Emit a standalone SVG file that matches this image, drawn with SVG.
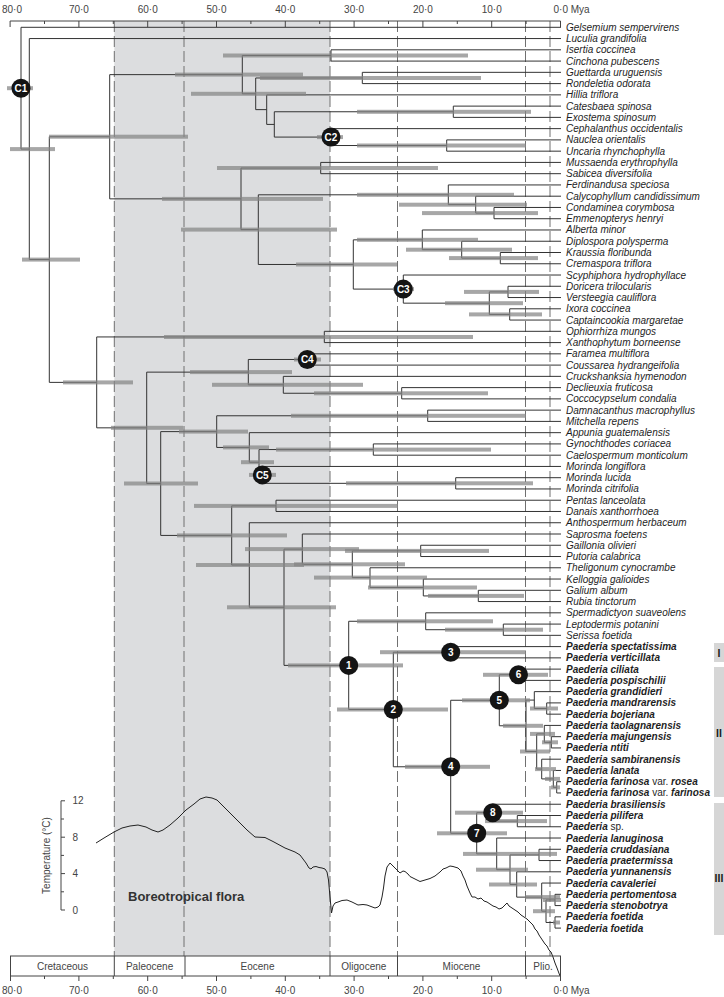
<svg xmlns="http://www.w3.org/2000/svg" width="724" height="997" viewBox="0 0 724 997">
<style>
.br{fill:none;stroke:#333;stroke-width:1}
.bar{fill:#858585;fill-opacity:0.72}
.tip{font-family:"Liberation Sans",Arial,sans-serif;font-size:10px;font-style:italic;fill:#1e1e1e}
.pae{font-weight:bold}
.n{font-weight:normal;font-style:normal}
.ax{font-family:"Liberation Sans",Arial,sans-serif;font-size:10px;fill:#444}
.dash{stroke:#707070;stroke-width:1;stroke-dasharray:11 4;fill:none}
.tk{stroke:#444;stroke-width:1}
.cal circle{fill:#141414}
.cal text{font-family:"Liberation Sans",Arial,sans-serif;font-size:10px;font-weight:bold;fill:#fff;text-anchor:middle}
.grp{fill:#d6d6d6}
.gl{font-family:"Liberation Sans",Arial,sans-serif;font-size:10.5px;font-weight:bold;fill:#1a1a1a;text-anchor:middle}
</style>
<rect width="724" height="997" fill="#fff"/>
<g id="background">
<rect x="114.3" y="21" width="215.7" height="935" fill="#dcdddf"/>
<path class="dash" d="M114.3,21V956M184,21V956M330,21V956M397.5,21V956M525.5,21V956M550,21V956"/>
</g>
<g id="top-axis">
<path class="tk" d="M10.1,21H560.5M10.1,21v6M78.9,21v6M147.7,21v6M216.5,21v6M285.3,21v6M354.1,21v6M422.9,21v6M491.7,21v6M560.5,21v6M44.5,21v3M113.3,21v3M182.1,21v3M250.9,21v3M319.7,21v3M388.5,21v3M457.3,21v3M526.1,21v3"/>
<g class="ax" text-anchor="middle">
<text x="12" y="13">80·0</text><text x="78.9" y="13">70·0</text><text x="147.7" y="13">60·0</text><text x="216.5" y="13">50·0</text><text x="285.3" y="13">40·0</text><text x="354.1" y="13">30·0</text><text x="422.9" y="13">20·0</text><text x="491.7" y="13">10·0</text>
</g>
<text class="ax" x="553.5" y="13">0·0 Mya</text>
</g>
<g id="connectors" class="br">
<path d="M561,27.3H21V149.07H29.3"/>
<path d="M561,38.56H29.3V259.57H49.3"/>
<path d="M109.7,136.74H49.3V382.39H96.7"/>
<path d="M242.3,74.63H109.7V198.85H241"/>
<path d="M331,55.45H242.3V93.8H255.7"/>
<path d="M561,49.82H331V61.08H561"/>
<path d="M362.3,77.97H255.7V109.64H266.7"/>
<path d="M561,72.34H362.3V83.6H561"/>
<path d="M561,94.86H266.7V124.42H274.3"/>
<path d="M453.3,111.75H274.3V137.09H331"/>
<path d="M561,106.12H453.3V117.38H561"/>
<path d="M561,128.64H331V145.53H446.7"/>
<path d="M561,139.9H446.7V151.16H561"/>
<path d="M320.7,168.05H241V229.64H258.3"/>
<path d="M561,162.42H320.7V173.68H561"/>
<path d="M448.3,194.8H258.3V264.47H353.3"/>
<path d="M561,184.94H448.3V204.65H475.7"/>
<path d="M561,196.2H475.7V213.09H494"/>
<path d="M561,207.46H494V218.72H561"/>
<path d="M422.3,239.84H353.3V289.1H403.3"/>
<path d="M561,229.98H422.3V249.69H461.7"/>
<path d="M561,241.24H461.7V258.13H500.3"/>
<path d="M561,252.5H500.3V263.76H561"/>
<path d="M561,275.02H403.3V303.17H489.3"/>
<path d="M508,291.91H489.3V314.43H509.7"/>
<path d="M561,286.28H508V297.54H561"/>
<path d="M561,308.8H509.7V320.06H561"/>
<path d="M324.3,336.95H96.7V427.83H146.7"/>
<path d="M561,331.32H324.3V342.58H561"/>
<path d="M248.3,372.14H146.7V483.52H160.7"/>
<path d="M307.3,359.47H248.3V384.81H283.3"/>
<path d="M561,353.84H307.3V365.1H561"/>
<path d="M561,376.36H283.3V393.25H401.7"/>
<path d="M561,387.62H401.7V398.88H561"/>
<path d="M216.7,431.61H160.7V535.43H231.7"/>
<path d="M427.7,415.77H216.7V447.44H249.3"/>
<path d="M561,410.14H427.7V421.4H561"/>
<path d="M561,432.66H249.3V462.22H259"/>
<path d="M373.3,449.55H259V474.89H262.3"/>
<path d="M561,443.92H373.3V455.18H561"/>
<path d="M561,466.44H262.3V483.33H455.7"/>
<path d="M561,477.7H455.7V488.96H561"/>
<path d="M276,505.85H231.7V565.01H249.3"/>
<path d="M561,500.22H276V511.48H561"/>
<path d="M561,522.74H249.3V607.27H284"/>
<path d="M302.3,549.14H284V665.39H348.7"/>
<path d="M561,534H302.3V564.27H352.3"/>
<path d="M420.7,550.89H352.3V577.64H370"/>
<path d="M561,545.26H420.7V556.52H561"/>
<path d="M561,567.78H370V587.49H423.3"/>
<path d="M561,579.04H423.3V595.93H478.3"/>
<path d="M561,590.3H478.3V601.56H561"/>
<path d="M425.7,621.27H348.7V709.51H393.3"/>
<path d="M561,612.82H425.7V629.71H503.3"/>
<path d="M561,624.08H503.3V635.34H561"/>
<path d="M450.7,652.23H393.3V766.78H450.7"/>
<path d="M561,646.6H450.7V657.86H561"/>
<path d="M499.3,700.27H450.7V833.28H476.7"/>
<path d="M518.5,674.75H499.3V725.78H526"/>
<path d="M561,669.12H518.5V680.38H561"/>
<path d="M534.3,700.09H526V751.47H536.7"/>
<path d="M561,691.64H534.3V708.53H546.7"/>
<path d="M561,702.9H546.7V714.16H561"/>
<path d="M544.3,733.87H536.7V769.06H541.7"/>
<path d="M561,725.42H544.3V742.31H551.3"/>
<path d="M561,736.68H551.3V747.94H561"/>
<path d="M561,759.2H541.7V778.91H553.3"/>
<path d="M561,770.46H553.3V787.35H556.7"/>
<path d="M561,781.72H556.7V792.98H561"/>
<path d="M492.7,812.69H476.7V853.86H496.7"/>
<path d="M561,804.24H492.7V821.13H517.3"/>
<path d="M561,815.5H517.3V826.76H561"/>
<path d="M561,838.02H496.7V869.69H510"/>
<path d="M539,854.91H510V884.47H516.7"/>
<path d="M561,849.28H539V860.54H561"/>
<path d="M561,871.8H516.7V897.14H541.7"/>
<path d="M561,883.06H541.7V911.21H546"/>
<path d="M555,899.95H546V922.47H555"/>
<path d="M561,894.32H555V905.58H561"/>
<path d="M561,916.84H555V928.1H561"/>
</g>
<g id="hpd-bars" class="bar">
<rect x="7" y="86.2" width="26" height="4"/>
<rect x="10" y="147.1" width="45" height="4"/>
<rect x="22" y="257.6" width="58" height="4"/>
<rect x="49" y="134.7" width="139" height="4"/>
<rect x="175" y="72.6" width="128" height="4"/>
<rect x="223" y="53.5" width="245" height="4"/>
<rect x="191" y="91.8" width="115" height="4"/>
<rect x="260" y="76" width="221" height="4"/>
<rect x="357" y="109.8" width="174" height="4"/>
<rect x="317" y="135.1" width="26" height="4"/>
<rect x="357" y="143.5" width="169" height="4"/>
<rect x="162" y="196.9" width="161" height="4"/>
<rect x="217" y="166" width="221" height="4"/>
<rect x="181" y="227.6" width="156" height="4"/>
<rect x="357" y="192.8" width="157" height="4"/>
<rect x="399" y="202.7" width="128" height="4"/>
<rect x="422" y="211.1" width="116" height="4"/>
<rect x="296" y="262.5" width="101" height="4"/>
<rect x="357" y="237.8" width="121" height="4"/>
<rect x="406" y="247.7" width="106" height="4"/>
<rect x="449" y="256.1" width="89" height="4"/>
<rect x="393" y="287.1" width="21" height="4"/>
<rect x="445" y="301.2" width="78" height="4"/>
<rect x="464" y="289.9" width="75" height="4"/>
<rect x="469" y="312.4" width="73" height="4"/>
<rect x="63" y="380.4" width="70" height="4"/>
<rect x="164" y="335" width="309" height="4"/>
<rect x="111" y="425.8" width="72" height="4"/>
<rect x="190" y="370.1" width="102" height="4"/>
<rect x="294" y="357.5" width="27" height="4"/>
<rect x="212" y="382.8" width="151" height="4"/>
<rect x="314" y="391.3" width="174" height="4"/>
<rect x="124" y="481.5" width="74" height="4"/>
<rect x="179" y="429.6" width="69" height="4"/>
<rect x="291" y="413.8" width="235" height="4"/>
<rect x="223" y="445.4" width="46" height="4"/>
<rect x="241" y="460.2" width="33" height="4"/>
<rect x="276" y="447.6" width="215" height="4"/>
<rect x="249" y="472.9" width="27" height="4"/>
<rect x="346" y="481.3" width="187" height="4"/>
<rect x="177" y="533.4" width="110" height="4"/>
<rect x="194" y="503.9" width="204" height="4"/>
<rect x="196" y="563" width="108" height="4"/>
<rect x="227" y="605.3" width="109" height="4"/>
<rect x="245" y="547.1" width="114" height="4"/>
<rect x="294" y="562.3" width="111" height="4"/>
<rect x="345" y="548.9" width="144" height="4"/>
<rect x="314" y="575.6" width="113" height="4"/>
<rect x="368" y="585.5" width="109" height="4"/>
<rect x="428" y="593.9" width="96" height="4"/>
<rect x="288" y="663.4" width="115" height="4"/>
<rect x="357" y="619.3" width="136" height="4"/>
<rect x="445" y="627.7" width="98" height="4"/>
<rect x="337" y="707.5" width="111" height="4"/>
<rect x="380" y="650.2" width="146" height="4"/>
<rect x="405" y="764.8" width="85" height="4"/>
<rect x="462" y="698.3" width="68" height="4"/>
<rect x="483" y="672.8" width="65" height="4"/>
<rect x="503" y="723.8" width="40" height="4"/>
<rect x="530" y="706.5" width="28" height="4"/>
<rect x="520" y="749.5" width="30" height="4"/>
<rect x="530" y="731.9" width="25" height="4"/>
<rect x="542" y="740.3" width="16" height="4"/>
<rect x="535" y="767.1" width="21" height="4"/>
<rect x="545" y="776.9" width="15" height="4"/>
<rect x="551" y="785.4" width="9" height="4"/>
<rect x="437" y="831.3" width="70" height="4"/>
<rect x="455" y="810.7" width="68" height="4"/>
<rect x="485" y="819.1" width="62" height="4"/>
<rect x="463" y="851.9" width="94" height="4"/>
<rect x="476" y="867.7" width="52" height="4"/>
<rect x="489" y="882.5" width="48" height="4"/>
<rect x="525" y="895.1" width="35" height="4"/>
<rect x="533" y="909.2" width="22" height="4"/>
<rect x="543" y="898" width="18" height="4"/>
<rect x="553" y="920.5" width="7" height="4"/>
</g>
<g id="C1" class="cal"><circle cx="21" cy="88.19" r="9.5"/><text x="21" y="91.8" font-size="9.5">C1</text></g>
<g id="C2" class="cal"><circle cx="331" cy="137.09" r="9.5"/><text x="331" y="140.7" font-size="9.5">C2</text></g>
<g id="C3" class="cal"><circle cx="403.3" cy="289.1" r="9.5"/><text x="403.3" y="292.7" font-size="9.5">C3</text></g>
<g id="C4" class="cal"><circle cx="307.3" cy="359.47" r="9.5"/><text x="307.3" y="363.1" font-size="9.5">C4</text></g>
<g id="C5" class="cal"><circle cx="262.3" cy="474.89" r="9.5"/><text x="262.3" y="478.5" font-size="9.5">C5</text></g>
<g id="node1" class="cal"><circle cx="348.7" cy="665.39" r="9.5"/><text x="348.7" y="669">1</text></g>
<g id="node2" class="cal"><circle cx="393.3" cy="709.51" r="9.5"/><text x="393.3" y="713.1">2</text></g>
<g id="node3" class="cal"><circle cx="450.7" cy="652.23" r="9.5"/><text x="450.7" y="655.8">3</text></g>
<g id="node4" class="cal"><circle cx="450.7" cy="766.78" r="9.5"/><text x="450.7" y="770.4">4</text></g>
<g id="node5" class="cal"><circle cx="499.3" cy="700.27" r="9.5"/><text x="499.3" y="703.9">5</text></g>
<g id="node6" class="cal"><circle cx="518.5" cy="674.75" r="9.5"/><text x="518.5" y="678.4">6</text></g>
<g id="node7" class="cal"><circle cx="476.7" cy="833.28" r="9.5"/><text x="476.7" y="836.9">7</text></g>
<g id="node8" class="cal"><circle cx="492.7" cy="812.69" r="9.5"/><text x="492.7" y="816.3">8</text></g>
<g id="tips" class="tip">
<g id="t01"><text x="566" y="30.8">Gelsemium sempervirens</text></g>
<g id="t02"><text x="566" y="42.06">Luculia grandifolia</text></g>
<g id="t03"><text x="566" y="53.32">Isertia coccinea</text></g>
<g id="t04"><text x="566" y="64.58">Cinchona pubescens</text></g>
<g id="t05"><text x="566" y="75.84">Guettarda uruguensis</text></g>
<g id="t06"><text x="566" y="87.1">Rondeletia odorata</text></g>
<g id="t07"><text x="566" y="98.36">Hillia triflora</text></g>
<g id="t08"><text x="566" y="109.62">Catesbaea spinosa</text></g>
<g id="t09"><text x="566" y="120.88">Exostema spinosum</text></g>
<g id="t10"><text x="566" y="132.14">Cephalanthus occidentalis</text></g>
<g id="t11"><text x="566" y="143.4">Nauclea orientalis</text></g>
<g id="t12"><text x="566" y="154.66">Uncaria rhynchophylla</text></g>
<g id="t13"><text x="566" y="165.92">Mussaenda erythrophylla</text></g>
<g id="t14"><text x="566" y="177.18">Sabicea diversifolia</text></g>
<g id="t15"><text x="566" y="188.44">Ferdinandusa speciosa</text></g>
<g id="t16"><text x="566" y="199.7">Calycophyllum candidissimum</text></g>
<g id="t17"><text x="566" y="210.96">Condaminea corymbosa</text></g>
<g id="t18"><text x="566" y="222.22">Emmenopterys henryi</text></g>
<g id="t19"><text x="566" y="233.48">Alberta minor</text></g>
<g id="t20"><text x="566" y="244.74">Diplospora polysperma</text></g>
<g id="t21"><text x="566" y="256">Kraussia floribunda</text></g>
<g id="t22"><text x="566" y="267.26">Cremaspora triflora</text></g>
<g id="t23"><text x="566" y="278.52">Scyphiphora hydrophyllace</text></g>
<g id="t24"><text x="566" y="289.78">Doricera trilocularis</text></g>
<g id="t25"><text x="566" y="301.04">Versteegia cauliflora</text></g>
<g id="t26"><text x="566" y="312.3">Ixora coccinea</text></g>
<g id="t27"><text x="566" y="323.56">Captaincookia margaretae</text></g>
<g id="t28"><text x="566" y="334.82">Ophiorrhiza mungos</text></g>
<g id="t29"><text x="566" y="346.08">Xanthophytum borneense</text></g>
<g id="t30"><text x="566" y="357.34">Faramea multiflora</text></g>
<g id="t31"><text x="566" y="368.6">Coussarea hydrangeifolia</text></g>
<g id="t32"><text x="566" y="379.86">Cruckshanksia hymenodon</text></g>
<g id="t33"><text x="566" y="391.12">Declieuxia fruticosa</text></g>
<g id="t34"><text x="566" y="402.38">Coccocypselum condalia</text></g>
<g id="t35"><text x="566" y="413.64">Damnacanthus macrophyllus</text></g>
<g id="t36"><text x="566" y="424.9">Mitchella repens</text></g>
<g id="t37"><text x="566" y="436.16">Appunia guatemalensis</text></g>
<g id="t38"><text x="566" y="447.42">Gynochthodes coriacea</text></g>
<g id="t39"><text x="566" y="458.68">Caelospermum monticolum</text></g>
<g id="t40"><text x="566" y="469.94">Morinda longiflora</text></g>
<g id="t41"><text x="566" y="481.2">Morinda lucida</text></g>
<g id="t42"><text x="566" y="492.46">Morinda citrifolia</text></g>
<g id="t43"><text x="566" y="503.72">Pentas lanceolata</text></g>
<g id="t44"><text x="566" y="514.98">Danais xanthorrhoea</text></g>
<g id="t45"><text x="566" y="526.24">Anthospermum herbaceum</text></g>
<g id="t46"><text x="566" y="537.5">Saprosma foetens</text></g>
<g id="t47"><text x="566" y="548.76">Gaillonia olivieri</text></g>
<g id="t48"><text x="566" y="560.02">Putoria calabrica</text></g>
<g id="t49"><text x="566" y="571.28">Theligonum cynocrambe</text></g>
<g id="t50"><text x="566" y="582.54">Kelloggia galioides</text></g>
<g id="t51"><text x="566" y="593.8">Galium album</text></g>
<g id="t52"><text x="566" y="605.06">Rubia tinctorum</text></g>
<g id="t53"><text x="566" y="616.32">Spermadictyon suaveolens</text></g>
<g id="t54"><text x="566" y="627.58">Leptodermis potanini</text></g>
<g id="t55"><text x="566" y="638.84">Serissa foetida</text></g>
<g id="t56"><text class="pae" x="566" y="650.1">Paederia spectatissima</text></g>
<g id="t57"><text class="pae" x="566" y="661.36">Paederia verticillata</text></g>
<g id="t58"><text class="pae" x="566" y="672.62">Paederia ciliata</text></g>
<g id="t59"><text class="pae" x="566" y="683.88">Paederia pospischilii</text></g>
<g id="t60"><text class="pae" x="566" y="695.14">Paederia grandidieri</text></g>
<g id="t61"><text class="pae" x="566" y="706.4">Paederia mandrarensis</text></g>
<g id="t62"><text class="pae" x="566" y="717.66">Paederia bojeriana</text></g>
<g id="t63"><text class="pae" x="566" y="728.92">Paederia taolagnarensis</text></g>
<g id="t64"><text class="pae" x="566" y="740.18">Paederia majungensis</text></g>
<g id="t65"><text class="pae" x="566" y="751.44">Paederia ntiti</text></g>
<g id="t66"><text class="pae" x="566" y="762.7">Paederia sambiranensis</text></g>
<g id="t67"><text class="pae" x="566" y="773.96">Paederia lanata</text></g>
<g id="t68"><text class="pae" x="566" y="785.22">Paederia farinosa <tspan class="n">var.</tspan> rosea</text></g>
<g id="t69"><text class="pae" x="566" y="796.48">Paederia farinosa <tspan class="n">var.</tspan> farinosa</text></g>
<g id="t70"><text class="pae" x="566" y="807.74">Paederia brasiliensis</text></g>
<g id="t71"><text class="pae" x="566" y="819">Paederia pilifera</text></g>
<g id="t72"><text class="pae" x="566" y="830.26">Paederia <tspan class="n">sp.</tspan></text></g>
<g id="t73"><text class="pae" x="566" y="841.52">Paederia lanuginosa</text></g>
<g id="t74"><text class="pae" x="566" y="852.78">Paederia cruddasiana</text></g>
<g id="t75"><text class="pae" x="566" y="864.04">Paederia praetermissa</text></g>
<g id="t76"><text class="pae" x="566" y="875.3">Paederia yunnanensis</text></g>
<g id="t77"><text class="pae" x="566" y="886.56">Paederia cavaleriei</text></g>
<g id="t78"><text class="pae" x="566" y="897.82">Paederia pertomentosa</text></g>
<g id="t79"><text class="pae" x="566" y="909.08">Paederia stenobotrya</text></g>
<g id="t80"><text class="pae" x="566" y="920.34">Paederia foetida</text></g>
<g id="t81"><text class="pae" x="566" y="931.6">Paederia foetida</text></g>
</g>
<g id="clades">
<rect class="grp" x="714" y="643" width="10" height="19"/>
<rect class="grp" x="714" y="667" width="10" height="130"/>
<rect class="grp" x="714" y="803" width="10" height="132"/>
<text class="gl" x="719" y="657">I</text>
<text class="gl" x="719" y="737">II</text>
<text class="gl" x="719" y="882">III</text>
</g>
<g id="temperature">
<path class="tk" d="M61,800.8V910M61,800.8h4M61,819h3M61,837.2h4M61,855.4h3M61,873.6h4M61,891.8h3M61,910h4"/>
<g class="ax"><text x="72.5" y="804.3">12</text><text x="72.5" y="840.7">8</text><text x="72.5" y="877.1">4</text><text x="72.5" y="913.5">0</text></g>
<text class="ax" transform="translate(50,855.5) rotate(-90)" text-anchor="middle">Temperature (°C)</text>
<path fill="none" stroke="#222" stroke-width="1" d="M96,843L104,838L114,832L122,828L130,826L138,825L146,827L152,830L158,832L163,830L170,825L178,818L186,810L194,804L200,799L206,797L212,798L217,800L227,810L237,820L247,830L255,837L265,837.5L273,841.5L285,848L290,850L295,852L300,855L303,859L306,863L309,868L311,869L313,867L316,866.5L319,867.5L322,868L325,869L327,872L328.5,880L330,897L331.5,913L333,906L335,903L338,902L342,900.5L347,900L352,902L358,905L363,904.5L367,905L371,906.5L375,908L378,907L380,905L382,897L383.5,888L385,876L387,867L390,863L393,866L397,870L400,873L403,871L405,871.5L408,874L410,876.5L415,879L420,881.5L425,880L430,878.5L435,876L440,872L443,869L446,868L450,866L453,866.5L458,868L461,871L463,876L465,880L467,886L470,893L472,897L475,897L478,899L481,898L484,901L487,902L490,904L493,906L496,907L499,909L502,908L505,905L507,903L509,906L512,908L515,910L518,912L521,915L524,917L527,919L530,922L533,925L535,929L537,931L539,935L541,938L543,941L545,944L547,946L549,950L551,952L553,957L555,963L557,968L558.5,972L560,976"/>
<text x="128" y="901" font-family="'Liberation Sans',Arial,sans-serif" font-size="13" font-weight="bold" fill="#333">Boreotropical flora</text>
</g>
<g id="time-scale">
<rect x="10.5" y="956" width="550" height="20" fill="none" stroke="#444" stroke-width="1"/>
<path class="tk" d="M114.3,956V976M185,956V976M330,956V976M397.5,956V976M525.5,956V976M10.5,976v5M78.9,976v5M147.7,976v5M216.5,976v5M285.3,976v5M354.1,976v5M422.9,976v5M491.7,976v5M560.5,976v5M44.5,976v3M113.3,976v3M182.1,976v3M250.9,976v3M319.7,976v3M388.5,976v3M457.3,976v3M526.1,976v3"/>
<g class="ax" text-anchor="middle">
<text x="62.5" y="969.5">Cretaceous</text><text x="149.6" y="969.5">Paleocene</text><text x="257.5" y="969.5">Eocene</text><text x="363.8" y="969.5">Oligocene</text><text x="461.5" y="969.5">Miocene</text><text x="543" y="969.5">Plio.</text>
<text x="12" y="994">80·0</text><text x="78.9" y="994">70·0</text><text x="147.7" y="994">60·0</text><text x="216.5" y="994">50·0</text><text x="285.3" y="994">40·0</text><text x="354.1" y="994">30·0</text><text x="422.9" y="994">20·0</text><text x="491.7" y="994">10·0</text>
</g>
<text class="ax" x="553.5" y="994">0·0 Mya</text>
</g>
</svg>
